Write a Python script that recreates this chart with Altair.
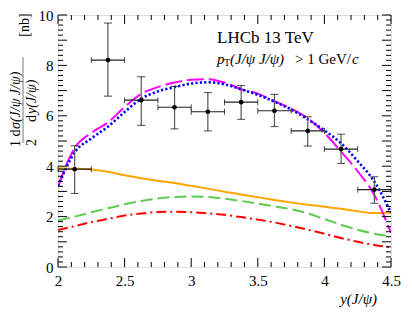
import altair as alt
import pandas as pd

# ---- measured data (LHCb 13 TeV, di-J/psi) ----
bin_centers = [2.125, 2.375, 2.625, 2.875, 3.125, 3.375, 3.625, 3.875, 4.125, 4.375]
bin_half = [0.125] * 10
y_vals = [3.88, 8.21, 6.62, 6.34, 6.16, 6.54, 6.20, 5.40, 4.68, 3.07]
y_low = [2.92, 6.78, 5.62, 5.48, 5.40, 5.86, 5.57, 4.80, 4.11, 2.53]
y_high = [4.81, 9.68, 7.55, 7.17, 6.92, 7.20, 6.85, 5.96, 5.27, 3.58]

# ---- theory curves ----
curve_x = [2.0, 2.125, 2.25, 2.375, 2.5, 2.625, 2.75, 2.875, 3.0, 3.125, 3.25,
           3.375, 3.5, 3.625, 3.75, 3.875, 4.0, 4.125, 4.25, 4.375, 4.5]
magenta_y = [3.2, 4.72, 5.32, 5.74, 6.35, 6.87, 7.14, 7.32, 7.43, 7.45, 7.32,
             7.06, 6.88, 6.58, 6.28, 5.90, 5.32, 4.58, 3.80, 2.86, 1.35]
blue_y = [3.2, 4.55, 5.10, 5.57, 6.15, 6.68, 6.97, 7.14, 7.28, 7.33, 7.25,
          7.05, 6.83, 6.56, 6.25, 5.86, 5.42, 4.91, 4.20, 3.39, 2.15]
orange_y = [3.92, 3.90, 3.87, 3.78, 3.64, 3.52, 3.42, 3.33, 3.22, 3.11, 2.99,
            2.88, 2.77, 2.66, 2.56, 2.47, 2.39, 2.31, 2.21, 2.14, 2.16]
green_y = [1.84, 2.00, 2.17, 2.33, 2.49, 2.62, 2.72, 2.78, 2.80, 2.78, 2.71,
           2.62, 2.52, 2.41, 2.29, 2.13, 1.90, 1.68, 1.48, 1.32, 1.22]
red_y = [1.47, 1.62, 1.78, 1.91, 2.04, 2.12, 2.18, 2.19, 2.17, 2.13, 2.07,
         1.98, 1.88, 1.77, 1.63, 1.48, 1.32, 1.15, 1.00, 0.87, 0.78]

x_major = [2.0, 2.5, 3.0, 3.5, 4.0, 4.5]
x_minor = [round(2.0 + 0.1 * i, 2) for i in range(26) if i % 5 != 0]
y_major = [0, 1, 2, 3, 4, 5, 6, 7, 8, 9, 10]
y_minor = [round(0.2 * i, 2) for i in range(51) if i % 5 != 0]

W, H = 333, 252
FONT = "Times New Roman"

xs = alt.Scale(domain=[2, 4.5], nice=False, zero=False)
ys = alt.Scale(domain=[0, 10], nice=False, zero=False)

pts = pd.DataFrame({
    "x": bin_centers,
    "xl": [c - h for c, h in zip(bin_centers, bin_half)],
    "xh": [c + h for c, h in zip(bin_centers, bin_half)],
    "y": y_vals, "lo": y_low, "hi": y_high,
})


def curve(yv, color, dash, width=2.0):
    df = pd.DataFrame({"x": curve_x, "y": yv})
    kw = dict(color=color, strokeWidth=width, interpolate="monotone", clip=True)
    if dash:
        kw["strokeDash"] = dash
    return alt.Chart(df).mark_line(**kw).encode(
        x=alt.X("x:Q", scale=xs,
                axis=alt.Axis(values=x_major, labelExpr="'' + datum.value", ticks=False,
                              domain=False, grid=False, title=None, labelFont=FONT,
                              labelFontSize=15, labelColor="black", labelPadding=6,
                              labelFlush=False, labelOverlap=False)),
        y=alt.Y("y:Q", scale=ys,
                axis=alt.Axis(values=y_major, labelExpr="'' + datum.value", ticks=False,
                              domain=False, grid=False, title=None, labelFont=FONT,
                              labelFontSize=15, labelColor="black", labelPadding=5,
                              labelFlush=False, labelOverlap=False)),
    )


layers = [
    curve(orange_y, "#FFA500", None),
    curve(green_y, "#5CCB4E", [12, 5]),
    curve(red_y, "#FF0000", [10, 4, 2, 4]),
    curve(magenta_y, "#FF00FF", [17, 5]),
    curve(blue_y, "#0000FF", [2.2, 2.2], 2.6),
]

base = alt.Chart(pts)
layers += [
    base.mark_rule(color="#555555", strokeWidth=1.2).encode(x="x:Q", y="lo:Q", y2="hi:Q"),
    base.mark_rule(color="#222222", strokeWidth=1.2).encode(x="xl:Q", x2="xh:Q", y="y:Q"),
    base.mark_tick(orient="horizontal", color="black", size=8, thickness=1).encode(x="x:Q", y="lo:Q"),
    base.mark_tick(orient="horizontal", color="black", size=8, thickness=1).encode(x="x:Q", y="hi:Q"),
    base.mark_tick(orient="vertical", color="black", size=6, thickness=1).encode(x="xl:Q", y="y:Q"),
    base.mark_tick(orient="vertical", color="black", size=6, thickness=1).encode(x="xh:Q", y="y:Q"),
    base.mark_circle(color="black", size=22, opacity=1).encode(x="x:Q", y="y:Q"),
]


# inward ticks on all four sides
def xticks(vals, ln):
    d = alt.Chart(pd.DataFrame({"t": vals}))
    return [
        d.mark_rule(color="black", strokeWidth=1).encode(x="t:Q", y=alt.value(H), y2=alt.value(H - ln)),
        d.mark_rule(color="black", strokeWidth=1).encode(x="t:Q", y=alt.value(0), y2=alt.value(ln)),
    ]


def yticks(vals, ln):
    d = alt.Chart(pd.DataFrame({"t": vals}))
    return [
        d.mark_rule(color="black", strokeWidth=1).encode(y="t:Q", x=alt.value(0), x2=alt.value(ln)),
        d.mark_rule(color="black", strokeWidth=1).encode(y="t:Q", x=alt.value(W), x2=alt.value(W - ln)),
    ]


layers += xticks(x_major, 9) + xticks(x_minor, 5) + yticks(y_major, 9) + yticks(y_minor, 5)


def txt(s, x, y, size=14, style="normal", align="left", angle=0, color="black"):
    kw = dict(font=FONT, fontSize=size, fontStyle=style, align=align,
              baseline="middle", color=color)
    if angle:
        kw["angle"] = angle
    return alt.Chart(pd.DataFrame({"s": [s]})).mark_text(**kw).encode(
        text="s:N", x=alt.value(x), y=alt.value(y))


# texts (view coords: page - (58, 15))
layers += [
    txt("LHCb 13 TeV", 159, 23, size=17),
    txt("p", 159, 44, size=15, style="italic"),
    txt("T", 166, 48, size=10),
    txt("(J/ψ J/ψ)", 172, 44, size=15, style="italic"),
    txt("> 1 GeV/", 237, 44, size=15),
    txt("c", 294, 44, size=15, style="italic"),
    txt("y(J/ψ)", 319, 284, size=15, style="italic", align="right"),
    # y-axis title (rotated fraction), text runs bottom -> top
    txt("1 d", -42, 132, size=14, angle=270),
    txt("σ(J/ψ J/ψ)", -42, 114, size=14, style="italic", angle=270),
    txt("2", -26, 131, size=14, angle=270),
    txt("d", -26, 107, size=14, angle=270),
    txt("y(J/ψ)", -26, 99, size=14, style="italic", angle=270),
    txt("[nb]", -33, 10, size=14, align="center", angle=270),
    alt.Chart(pd.DataFrame({"s": [0]})).mark_rule(color="#777777", strokeWidth=1).encode(
        x=alt.value(-35), y=alt.value(42), y2=alt.value(128)),
]

chart = alt.layer(*layers).properties(
    width=W, height=H,
    autosize=alt.AutoSizeParams(type="none"),
    padding={"left": 50, "top": 7, "right": 13, "bottom": 43},
).configure_view(stroke="black", strokeWidth=1.2).configure(background="white", font=FONT)

chart.save("out.html", embed_options={"renderer": "svg", "actions": False})
